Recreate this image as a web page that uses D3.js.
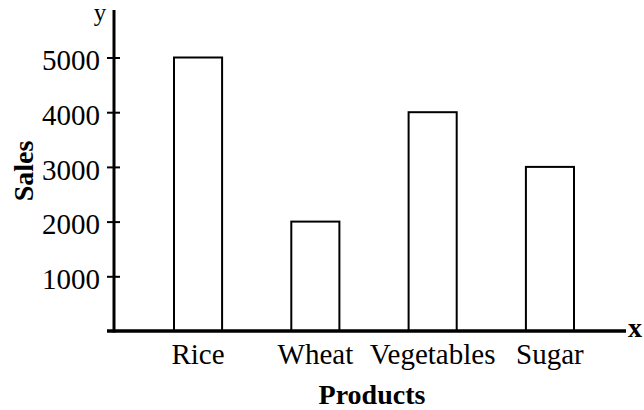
<!DOCTYPE html>
<html>
<head>
<meta charset="utf-8">
<script src="https://cdn.jsdelivr.net/npm/d3@7"></script>
<style>
  body { margin: 0; background: #fff; }
  text { font-family: "Liberation Serif", "Times New Roman", serif; fill: #000; }
</style>
</head>
<body>
<div id="chart"></div>
<script>
// chart data
var products = ["Rice", "Wheat", "Vegetables", "Sugar"];
var sales = [5000, 2000, 4000, 3000];
var yTicks = [1000, 2000, 3000, 4000, 5000];

var width = 644;
var height = 410;

var svg = d3.select("#chart")
  .append("svg")
  .attr("width", width)
  .attr("height", height);

// scales
var xScale = d3.scaleBand()
  .domain(products)
  .range([174, 574])
  .paddingInner(0.59)
  .paddingOuter(0);

var yScale = d3.scaleLinear()
  .domain([0, 5000])
  .range([331, 57.5]);

var data = products.map(function(p, i) {
  return { product: p, sales: sales[i] };
});

// bars
svg.selectAll("rect.bar")
  .data(data)
  .enter()
  .append("rect")
  .attr("class", "bar")
  .attr("x", d => xScale(d.product))
  .attr("y", d => yScale(d.sales))
  .attr("width", xScale.bandwidth())
  .attr("height", d => yScale(0) - yScale(d.sales))
  .attr("fill", "#fff")
  .attr("stroke", "#000")
  .attr("stroke-width", 2);

// y axis ticks and labels
var leftAxis = d3.axisLeft(yScale)
  .tickValues(yTicks)
  .tickSize(13)
  .tickPadding(7)
  .tickFormat(d3.format("d"));

var yAxisG = svg.append("g")
  .attr("transform", "translate(120,0)")
  .call(leftAxis);
yAxisG.select(".domain").remove();
yAxisG.selectAll(".tick line").attr("stroke", "#000").attr("stroke-width", 2);
yAxisG.selectAll(".tick text")
  .attr("font-size", 29)
  .attr("dy", "0.42em")
  .style("font-family", "'Liberation Serif', serif");

// x axis labels
var bottomAxis = d3.axisBottom(xScale)
  .tickSize(0)
  .tickPadding(12);

var xAxisG = svg.append("g")
  .attr("transform", "translate(0," + yScale(0) + ")")
  .call(bottomAxis);
xAxisG.select(".domain").remove();
xAxisG.selectAll(".tick text")
  .attr("font-size", 29)
  .style("font-family", "'Liberation Serif', serif");

// axis lines
svg.append("line")
  .attr("x1", 114).attr("x2", 114)
  .attr("y1", 10).attr("y2", yScale(0) + 1.5)
  .attr("stroke", "#000")
  .attr("stroke-width", 3);

svg.append("line")
  .attr("x1", 107).attr("x2", 626)
  .attr("y1", yScale(0)).attr("y2", yScale(0))
  .attr("stroke", "#000")
  .attr("stroke-width", 3.5);

// axis letters
svg.append("text")
  .attr("x", 100)
  .attr("y", 21)
  .attr("text-anchor", "middle")
  .attr("font-size", 25)
  .text("y");

svg.append("text")
  .attr("x", 628)
  .attr("y", 337)
  .attr("font-size", 28)
  .attr("font-weight", "bold")
  .text("x");

// axis titles
svg.append("text")
  .attr("x", 372)
  .attr("y", 404)
  .attr("text-anchor", "middle")
  .attr("font-size", 28)
  .attr("font-weight", "bold")
  .text("Products");

svg.append("text")
  .attr("transform", "translate(33,171) rotate(-90)")
  .attr("text-anchor", "middle")
  .attr("font-size", 28)
  .attr("font-weight", "bold")
  .text("Sales");
</script>
</body>
</html>
